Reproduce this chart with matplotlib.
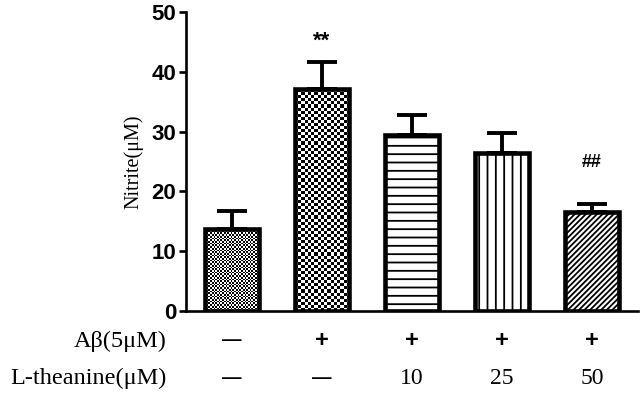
import numpy as np
import matplotlib
matplotlib.use("Agg")
import matplotlib.pyplot as plt
import matplotlib.transforms as mtransforms

# ---- data ----
groups = ["ctrl", "abeta", "lt10", "lt25", "lt50"]
nitrite = [13.7, 37.1, 29.4, 26.4, 16.6]
sem = [3.0, 4.5, 3.4, 3.4, 1.3]
abeta_row = ["\u2014", "+", "+", "+", "+"]
theanine_row = ["\u2014", "\u2014", "10", "25", "50"]
marks = ["", "**", "", "", "##"]
yticks = [0, 10, 20, 30, 40, 50]

SANS = "Liberation Sans"
SERIF = "Liberation Serif"

fig = plt.figure(figsize=(6.43, 3.94), dpi=100)
ax = fig.add_axes([0.289, 0.2107, 0.703, 0.7588])

x = np.arange(len(groups))
ax.set_xlim(-0.51, len(groups) - 0.49)
ax.set_ylim(0, 50)

W = 0.6
plt.rcParams["hatch.linewidth"] = 1.3
bars = ax.bar(x, nitrite, width=W, facecolor="none", edgecolor="black",
              linewidth=3.3, zorder=3)
ax.errorbar(x, nitrite, yerr=[np.zeros(len(sem)), sem], fmt="none",
            ecolor="black", elinewidth=2.8, capsize=11, capthick=2.8, zorder=2)

# line hatches for the last three bars
hatches = [None, None, "--", "||", "//////"]
for b, h in zip(bars, hatches):
    if h:
        b.set_hatch(h)

# checkerboard fills (fine / coarse) clipped to the first two bars
def checker(bar, cell_px):
    x0, w, hgt = bar.get_x(), bar.get_width(), bar.get_height()
    p0 = ax.transData.transform((x0, 0))
    p1 = ax.transData.transform((x0 + w, hgt))
    nx = max(1, int(round((p1[0] - p0[0]) / cell_px)))
    ny = max(1, int(round((p1[1] - p0[1]) / cell_px)))
    board = (np.add.outer(np.arange(ny), np.arange(nx)) % 2).astype(float)
    im = ax.imshow(board, cmap="gray", extent=(x0, x0 + w, 0, hgt),
                   origin="lower", interpolation="nearest", aspect="auto",
                   zorder=1)
    im.set_clip_path(bar)

checker(bars[0], 1.7)
checker(bars[1], 3.1)
ax.set_xlim(-0.51, len(groups) - 0.49)
ax.set_ylim(0, 50)

# significance marks above error caps
offs = {"**": 15, "##": 30}
for xi, v, e, m in zip(x, nitrite, sem, marks):
    if m:
        ax.annotate(m, (xi, v + e), xytext=(0, offs[m]), textcoords="offset points",
                    ha="center", va="center", fontsize=16 if m == "**" else 13,
                    fontweight="bold", family=SANS)

# axes styling
for s in ["top", "right"]:
    ax.spines[s].set_visible(False)
for s in ["left", "bottom"]:
    ax.spines[s].set_linewidth(1.9)
ax.set_xticks([])
ax.set_yticks(yticks)
ax.tick_params(axis="y", length=5, width=1.9, pad=2)
for t in ax.get_yticklabels():
    t.set_fontfamily(SANS)
    t.set_fontweight("bold")
    t.set_fontsize(16)

ax.set_ylabel("Nitrite(\u03bcM)", family=SERIF, fontsize=14.5, labelpad=6)

# treatment table under the axis
trans = mtransforms.blended_transform_factory(ax.transData, ax.transAxes)
row_y = [-0.10, -0.225]
for xi, a, t in zip(x, abeta_row, theanine_row):
    ax.text(xi, row_y[0], a, transform=trans, ha="center", va="center",
            fontsize=17 if a == "+" else 14, fontweight="bold", family=SANS)
    if t == "\u2014":
        ax.text(xi, row_y[1], t, transform=trans, ha="center", va="center",
                fontsize=14, fontweight="bold", family=SANS)
    else:
        ax.text(xi, row_y[1], t, transform=trans, ha="center", va="center",
                fontsize=17, family=SERIF)

fig.text(167 / 643, 1 - 341 / 394, "A\u03b2(5\u03bcM)", ha="right", va="center",
         fontsize=17.5, family=SERIF)
fig.text(167 / 643, 1 - 378 / 394, "L-theanine(\u03bcM)", ha="right", va="center",
         fontsize=17.5, family=SERIF)

fig.savefig("out.png", dpi=100)
